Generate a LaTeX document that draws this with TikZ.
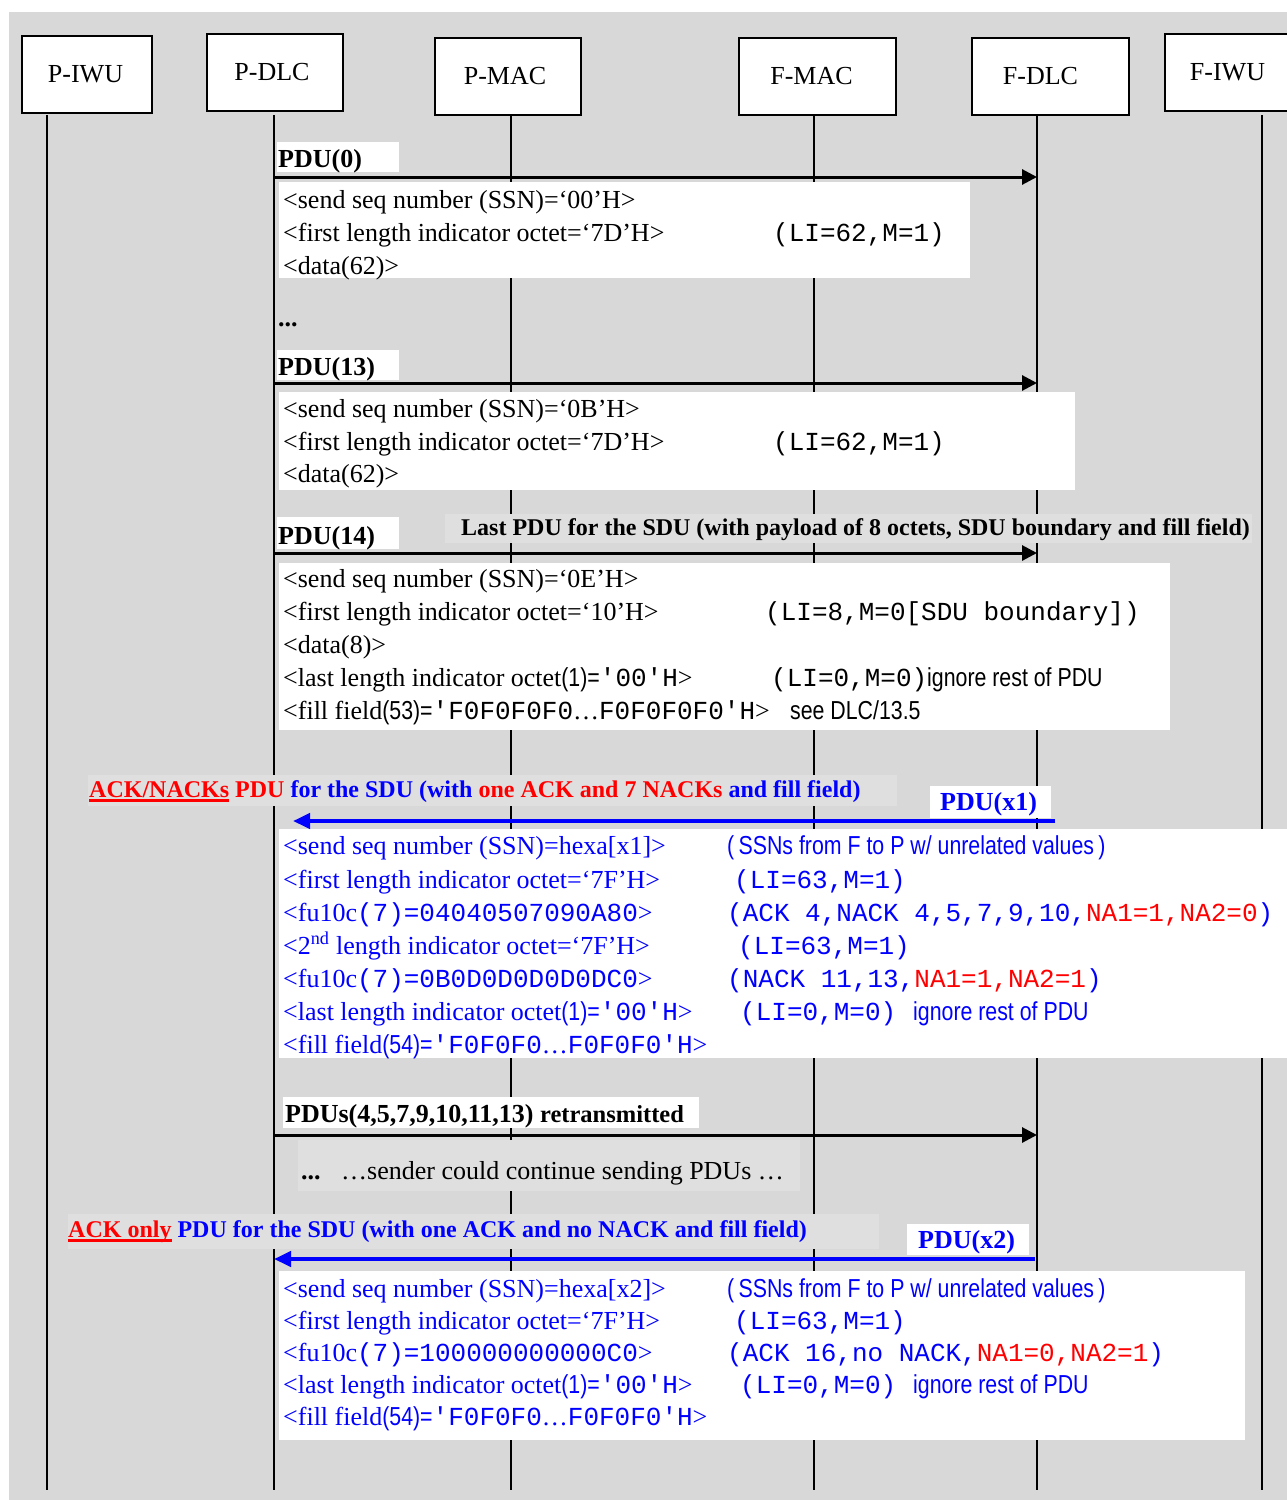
\documentclass[tikz,border=0pt]{standalone}
\usepackage{fontspec}
\setmainfont{Liberation Serif}
\setmonofont{Liberation Mono}
\newfontfamily\narrowsf[FakeStretch=0.82]{Liberation Sans}
\usetikzlibrary{arrows.meta,positioning}
\definecolor{bggray}{RGB}{216,216,216}
\definecolor{lblgray}{RGB}{223,223,223}
\newcommand{\mt}[1]{{\ttfamily #1}}
\newcommand{\nf}[1]{{\narrowsf #1}}
\newsavebox{\ulbox}
\newcommand{\redul}[1]{\sbox{\ulbox}{#1}\rlap{\rule[-5pt]{\wd\ulbox}{3pt}}\usebox{\ulbox}}

\begin{document}
\begin{tikzpicture}[x=1pt,y=-1pt,
  hdr/.style={draw,line width=2pt,fill=white,inner sep=0pt,minimum height=77pt,
    font=\fontsize{26pt}{30pt}\selectfont},
  life/.style={line width=2pt},
  msg/.style={->,>={Triangle[length=15pt,width=15pt]},line width=3pt},
  ackmsg/.style={->,>={Triangle[length=17pt,width=15pt]},line width=4pt,blue},
  txt/.style={anchor=base west,inner sep=0pt,font=\fontsize{26pt}{30pt}\selectfont},
  lbl/.style={txt,font=\fontsize{26pt}{30pt}\selectfont\bfseries},
  note/.style={txt,font=\fontsize{24pt}{28pt}\selectfont\bfseries}]
  \useasboundingbox (0,0) rectangle (1287,1500);
  \fill[bggray] (9,12) rectangle (1287,1500);

  \node[hdr,minimum width=130pt] (piwu) at (87,74.5) {P-IWU\hspace*{3pt}};
  \node[hdr,minimum width=136pt] (pdlc) at (275,72) {P-DLC\hspace*{6pt}};
  \node[hdr,minimum width=146pt] (pmac) at (508,76.5) {P-MAC\hspace*{6pt}};
  \node[hdr,minimum width=157pt] (fmac) at (817.5,76.5) {F-MAC\hspace*{12pt}};
  \node[hdr,minimum width=157pt] (fdlc) at (1050.5,76.5) {F-DLC\hspace*{20pt}};
  \node[hdr,minimum width=125pt] (fiwu) at (1227.5,72.5) {F-IWU};

  \foreach \n/\x in {piwu/47,pdlc/274,pmac/511,fmac/814,fdlc/1037,fiwu/1262}{
    \coordinate (\n-top) at (\x,115);
    \coordinate (\n-bot) at (\x,1490);
    \draw[life] (\n-top) -- (\n-bot);
  }

  % PDU(0)
  \fill[white] (279,182) rectangle (970,278);
  \node[txt] (s0-ssn) at (283,208) {<send seq number (SSN)=‘00’H>};
  \node[txt] (s0-li) at (283,241) {<first length indicator octet=‘7D’H>};
  \node[txt] (s0-lival) at (773,241) {\mt{(LI=62,M=1)}};
  \node[txt] (s0-data) at (283,274) {<data(62)>};

  % PDU(13)
  \fill[white] (279,392) rectangle (1075,490);
  \node[txt] (s13-ssn) at (283,417) {<send seq number (SSN)=‘0B’H>};
  \node[txt] (s13-li) at (283,450) {<first length indicator octet=‘7D’H>};
  \node[txt] (s13-lival) at (773,450) {\mt{(LI=62,M=1)}};
  \node[txt] (s13-data) at (283,482) {<data(62)>};

  % PDU(14)
  \fill[white] (279,563) rectangle (1170,730);
  \node[txt] (s14-ssn) at (283,587) {<send seq number (SSN)=‘0E’H>};
  \node[txt] (s14-li) at (283,620) {<first length indicator octet=‘10’H>};
  \node[txt] (s14-lival) at (765,620) {\mt{(LI=8,M=0[SDU boundary])}};
  \node[txt] (s14-data) at (283,653) {<data(8)>};
  \node[txt] (s14-last) at (283,686) {<last length indicator octet\nf{(1)=}\mt{'00'H}>};
  \node[txt] (s14-lastval) at (771,686) {\mt{(LI=0,M=0)}\nf{ignore rest of PDU}};
  \node[txt] (s14-fill) at (283,719) {<fill field\nf{(53)=}\mt{'F0F0F0F0}…\mt{F0F0F0F0'H}>};
  \node[txt] (s14-see) at (790,719) {\nf{see DLC/13.5}};

  % PDU(x1)
  \fill[white] (279,829) rectangle (1287,1058);
  \begin{scope}[every node/.append style={text=blue}]
    \node[txt] (x1-ssn) at (283,854) {<send seq number (SSN)=hexa[x1]>};
    \node[txt] (x1-ssnval) at (727,854) {\nf{(\,SSNs from F to P w/ unrelated values\,)}};
    \node[txt] (x1-li) at (283,888) {<first length indicator octet=‘7F’H>};
    \node[txt] (x1-lival) at (734,888) {\mt{(LI=63,M=1)}};
    \node[txt] (x1-fu1) at (283,921) {<fu10c\mt{(7)=04040507090A80}>};
    \node[txt] (x1-fu1val) at (727,921) {\mt{(ACK 4,NACK 4,5,7,9,10,\textcolor{red}{NA1=1,NA2=0})}};
    \node[txt] (x1-li2) at (283,954) {<2\textsuperscript{nd} length indicator octet=‘7F’H>};
    \node[txt] (x1-li2val) at (738,954) {\mt{(LI=63,M=1)}};
    \node[txt] (x1-fu2) at (283,987) {<fu10c\mt{(7)=0B0D0D0D0D0DC0}>};
    \node[txt] (x1-fu2val) at (727,987) {\mt{(NACK 11,13,\textcolor{red}{NA1=1,NA2=1})}};
    \node[txt] (x1-last) at (283,1020) {<last length indicator octet\nf{(1)=}\mt{'00'H}>};
    \node[txt] (x1-lastval) at (740,1020) {\mt{(LI=0,M=0)}};
    \node[txt] (x1-ign) at (913,1020) {\nf{ignore rest of PDU}};
    \node[txt] (x1-fill) at (283,1053) {<fill field\nf{(54)=}\mt{'F0F0F0}…\mt{F0F0F0'H}>};
  \end{scope}

  % PDU(x2)
  \fill[white] (279,1271) rectangle (1245,1440);
  \begin{scope}[every node/.append style={text=blue}]
    \node[txt] (x2-ssn) at (283,1297) {<send seq number (SSN)=hexa[x2]>};
    \node[txt] (x2-ssnval) at (727,1297) {\nf{(\,SSNs from F to P w/ unrelated values\,)}};
    \node[txt] (x2-li) at (283,1329) {<first length indicator octet=‘7F’H>};
    \node[txt] (x2-lival) at (734,1329) {\mt{(LI=63,M=1)}};
    \node[txt] (x2-fu) at (283,1361) {<fu10c\mt{(7)=100000000000C0}>};
    \node[txt] (x2-fuval) at (727,1361) {\mt{(ACK 16,no NACK,\textcolor{red}{NA1=0,NA2=1})}};
    \node[txt] (x2-last) at (283,1393) {<last length indicator octet\nf{(1)=}\mt{'00'H}>};
    \node[txt] (x2-lastval) at (740,1393) {\mt{(LI=0,M=0)}};
    \node[txt] (x2-ign) at (913,1393) {\nf{ignore rest of PDU}};
    \node[txt] (x2-fill) at (283,1425) {<fill field\nf{(54)=}\mt{'F0F0F0}…\mt{F0F0F0'H}>};
  \end{scope}

  \draw[msg] (pdlc-top |- 0,177) -- (fdlc-top |- 0,177);
  \draw[msg] (pdlc-top |- 0,383) -- (fdlc-top |- 0,383);
  \draw[msg] (pdlc-top |- 0,553) -- (fdlc-top |- 0,553);
  \coordinate (x1-from) at (1055,821);
  \coordinate (x1-to) at (293,821);
  \draw[ackmsg] (x1-from) -- (x1-to);
  \draw[msg] (pdlc-top |- 0,1135) -- (fdlc-top |- 0,1135);
  \coordinate (x2-from) at (1035,1259);
  \draw[ackmsg] (x2-from) -- (pdlc-top |- x2-from);

  \fill[white] (277,142) rectangle (399,172);
  \node[lbl] (pdu0) at (278,167) {PDU(0)};
  \node[lbl] (gap) at (278,326) {...};
  \fill[white] (277,350) rectangle (399,380);
  \node[lbl] (pdu13) at (278,375) {PDU(13)};
  \fill[white] (277,517) rectangle (399,549);
  \node[lbl] (pdu14) at (278,544) {PDU(14)};
  \fill[lblgray] (445,514) rectangle (1252,543);
  \node[note] (lastpdu) at (461,535) {Last PDU for the SDU (with payload of 8 octets, SDU boundary and fill field)};

  \fill[lblgray] (88,775) rectangle (897,806);
  \node[note,text=blue] (acknack) at (89,797)
    {\textcolor{red}{\redul{ACK/NACKs} PDU} for the SDU (with \textcolor{red}{one ACK and 7 NACKs} and fill field)};
  \fill[white] (930,786) rectangle (1051,818);
  \node[lbl,text=blue] (pdux1) at (940,810) {PDU(x1)};

  \fill[white] (283,1097) rectangle (699,1128);
  \node[lbl] (retx) at (285,1122) {PDUs(4,5,7,9,10,11,13) {\fontsize{24.5pt}{28pt}\selectfont retransmitted}};
  \fill[lblgray] (298,1140) rectangle (800,1191);
  \node[lbl] (moredots) at (301,1179) {...};
  \node[txt] (sender) at (341,1179) {…sender could continue sending PDUs …};

  \fill[lblgray] (68,1214) rectangle (879,1249);
  \node[note,text=blue] (ackonly) at (68,1237)
    {\textcolor{red}{\redul{ACK only}} PDU for the SDU (with one ACK and no NACK and fill field)};
  \fill[white] (907,1224) rectangle (1029,1255);
  \node[lbl,text=blue] (pdux2) at (918,1248) {PDU(x2)};
\end{tikzpicture}
\end{document}
